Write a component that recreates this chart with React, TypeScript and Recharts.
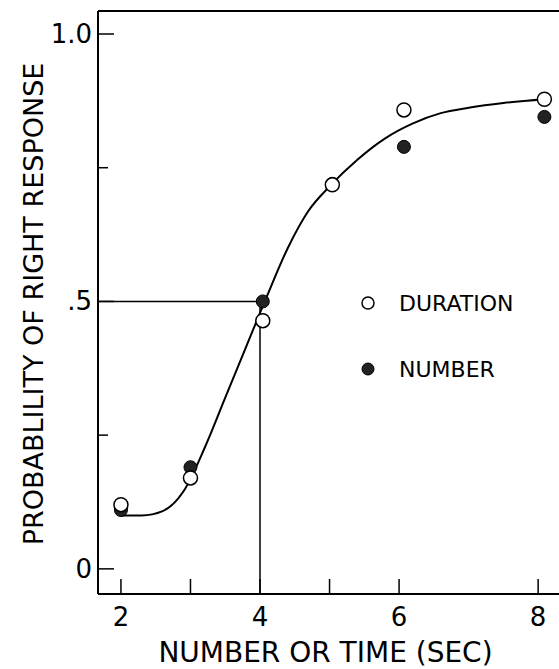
import { ComposedChart, Scatter, Line, XAxis, YAxis, ReferenceLine } from 'recharts';

// Observed points (x = number or time in sec, y = probability)
const durationX = [2, 3, 4.04, 5.04, 6.07, 8.09];
const durationY = [0.12, 0.17, 0.464, 0.718, 0.858, 0.878];
const numberX = [2, 3, 4.04, 5.04, 6.07, 8.09];
const numberY = [0.11, 0.19, 0.5, 0.72, 0.789, 0.845];

// Fitted curve
const fitX = [2, 2.3, 2.6, 2.9, 3.2, 3.5, 3.8, 4.1, 4.4, 4.7, 5.0, 5.4, 5.8, 6.2, 6.6, 7.0, 7.5, 8.1];
const fitY = [0.1, 0.1, 0.108, 0.145, 0.225, 0.32, 0.415, 0.51, 0.6, 0.67, 0.715, 0.765, 0.805, 0.833, 0.852, 0.862, 0.871, 0.878];

const xTicks = [2, 3, 4, 5, 6, 8];
const xTickLabels = ['2', '', '4', '', '6', '8'];
const yTicks = [0, 0.25, 0.5, 0.75, 1];
const yTickLabels = ['0', '', '.5', '', '1.0'];

const X_DOMAIN = [1.67, 8.3];
const Y_DOMAIN = [-0.047, 1.043];
const FONT = '"DejaVu Sans", Verdana, sans-serif';

const durationData = durationX.map((x, i) => ({ x, y: durationY[i] }));
const numberData = numberX.map((x, i) => ({ x, y: numberY[i] }));
const fitData = fitX.map((x, i) => ({ x, y: fitY[i] }));

const XTick = (props: any) => {
  const { x, y, payload } = props;
  const i = xTicks.indexOf(payload.value);
  return (
    <g>
      <line x1={x} y1={y} x2={x} y2={y - 15} stroke="#000" strokeWidth={1.5} />
      <text x={x} y={y + 32} textAnchor="middle" fontSize={26} fontFamily={FONT} fill="#000">
        {xTickLabels[i]}
      </text>
    </g>
  );
};

const YTick = (props: any) => {
  const { x, y, payload } = props;
  const i = yTicks.indexOf(payload.value);
  const len = i % 2 === 0 ? 16 : 10;
  return (
    <g>
      <line x1={x} y1={y} x2={x + len} y2={y} stroke="#000" strokeWidth={1.5} />
      <text x={x - 6} y={y + 9} textAnchor="end" fontSize={26} fontFamily={FONT} fill="#000">
        {yTickLabels[i]}
      </text>
    </g>
  );
};

const OpenDot = (props: any) => (
  <circle cx={props.cx} cy={props.cy} r={7} fill="#fff" stroke="#000" strokeWidth={1.5} />
);
const FilledDot = (props: any) => (
  <circle cx={props.cx} cy={props.cy} r={6.5} fill="#222" stroke="#000" strokeWidth={1} />
);

const YTitle = () => (
  <text
    x={33}
    y={304}
    transform="rotate(-90, 33, 304)"
    textAnchor="middle"
    dominantBaseline="central"
    fontSize={27}
    fontFamily={FONT}
    fill="#000"
  >
    PROBABLILITY OF RIGHT RESPONSE
  </text>
);

const XTitle = (props: any) => {
  const vb = props.viewBox || { x: 98, width: 461 };
  return (
    <text
      x={vb.x + vb.width / 2 - 3}
      y={652}
      textAnchor="middle"
      dominantBaseline="central"
      fontSize={28}
      fontFamily={FONT}
      fill="#000"
    >
      NUMBER OR TIME (SEC)
    </text>
  );
};

export default function App() {
  return (
    <div style={{ position: 'absolute', left: 0, top: 0, width: 559, height: 669, background: '#fff' }}>
      <ComposedChart width={559} height={669} margin={{ top: 11, right: 0, bottom: 0, left: 0 }}>
        <XAxis
          type="number"
          dataKey="x"
          domain={X_DOMAIN}
          allowDataOverflow
          ticks={xTicks}
          tick={<XTick />}
          tickSize={0}
          tickMargin={0}
          tickLine={false}
          height={75}
          axisLine={{ stroke: '#000', strokeWidth: 2 }}
          label={{ content: (p: any) => <XTitle {...p} /> }}
        />
        <YAxis
          type="number"
          dataKey="y"
          domain={Y_DOMAIN}
          allowDataOverflow
          ticks={yTicks}
          tick={<YTick />}
          tickSize={0}
          tickMargin={0}
          tickLine={false}
          width={98}
          axisLine={{ stroke: '#000', strokeWidth: 2 }}
          label={{ content: () => <YTitle /> }}
        />
        <ReferenceLine y={Y_DOMAIN[1]} stroke="#000" strokeWidth={2} />
        <ReferenceLine
          segment={[{ x: X_DOMAIN[0], y: 0.5 }, { x: 4, y: 0.5 }]}
          stroke="#000"
          strokeWidth={1.5}
        />
        <ReferenceLine
          segment={[{ x: 4, y: Y_DOMAIN[0] }, { x: 4, y: 0.5 }]}
          stroke="#000"
          strokeWidth={1.5}
        />
        <Line
          data={fitData}
          dataKey="y"
          type="monotone"
          stroke="#000"
          strokeWidth={2}
          dot={false}
          activeDot={false}
          isAnimationActive={false}
        />
        <Scatter data={numberData} dataKey="y" shape={<FilledDot />} isAnimationActive={false} />
        <Scatter data={durationData} dataKey="y" shape={<OpenDot />} isAnimationActive={false} />
      </ComposedChart>
      <div style={{ position: 'absolute', left: 360, top: 290, fontFamily: FONT, fontSize: 22, color: '#000' }}>
        <div style={{ display: 'flex', alignItems: 'center', height: 26 }}>
          <svg width={16} height={16} style={{ marginRight: 23 }}>
            <circle cx={8} cy={8} r={6} fill="#fff" stroke="#000" strokeWidth={1.5} />
          </svg>
          DURATION
        </div>
        <div style={{ display: 'flex', alignItems: 'center', height: 26, marginTop: 40 }}>
          <svg width={16} height={16} style={{ marginRight: 23 }}>
            <circle cx={8} cy={8} r={6} fill="#222" stroke="#000" strokeWidth={1} />
          </svg>
          NUMBER
        </div>
      </div>
    </div>
  );
}
